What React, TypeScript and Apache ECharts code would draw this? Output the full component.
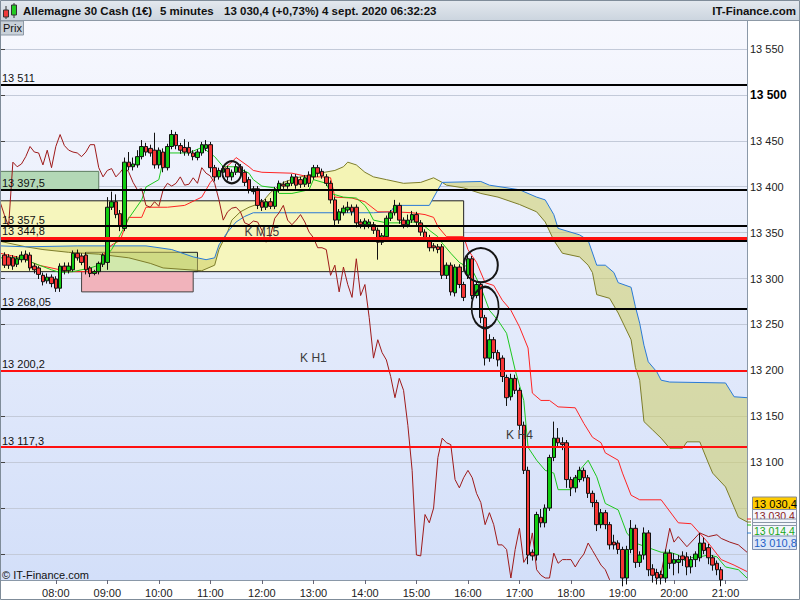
import React, { useEffect, useRef } from 'react';
import * as echarts from 'echarts';

const FONT = '"Liberation Sans", Arial, sans-serif';

// 5-minute slots, 06:55 .. 21:25
const categories: string[] = [];
for (let m = 6 * 60 + 55; m <= 21 * 60 + 25; m += 5) {
  categories.push(String(Math.floor(m / 60)).padStart(2, '0') + ':' + String(m % 60).padStart(2, '0'));
}
const firstCandleSlot = 1; // 07:00

const opens = [
  13326, 13324, 13323, 13316, 13321, 13327, 13326, 13314, 13312, 13304,
  13298, 13302, 13300, 13290, 13314, 13309, 13310, 13328, 13325, 13326,
  13312, 13306, 13308, 13316, 13318, 13378, 13384, 13371, 13355, 13427,
  13422, 13424, 13433, 13444, 13442, 13440, 13424, 13438, 13421, 13444,
  13457, 13445, 13443, 13443, 13437, 13432, 13437, 13442, 13446, 13421,
  13411, 13416, 13420, 13411, 13416, 13422, 13416, 13408, 13395, 13398,
  13384, 13378, 13384, 13379, 13397, 13403, 13401, 13404, 13411, 13408,
  13403, 13413, 13411, 13421, 13417, 13411, 13404, 13386, 13364, 13372,
  13375, 13378, 13378, 13362, 13359, 13359, 13359, 13353, 13340, 13346,
  13366, 13372, 13380, 13364, 13359, 13364, 13370, 13361, 13351, 13345,
  13336, 13335, 13335, 13304, 13315, 13285, 13313, 13294, 13304, 13322,
  13282, 13294, 13258, 13214, 13234, 13220, 13214, 13193, 13172, 13192,
  13179, 13141, 13092, 13003, 13000, 13041, 13035, 13051, 13106, 13127,
  13122, 13122, 13082, 13073, 13082, 13092, 13084, 13067, 13057, 13033,
  13046, 13033, 13014, 13013, 13006, 12975, 13006, 13029, 12992, 13000,
  13024, 12985, 12981, 12979, 12975, 13002, 12991, 12992, 12999, 12998,
  12987, 12995, 12997, 13013, 13008, 12997, 12991, 12984,
];
const closes = [
  13315, 13315, 13314, 13322, 13326, 13321, 13312, 13310, 13305, 13297,
  13302, 13295, 13290, 13314, 13309, 13314, 13328, 13323, 13318, 13310,
  13306, 13308, 13317, 13326, 13378, 13384, 13370, 13357, 13427, 13422,
  13425, 13433, 13444, 13438, 13437, 13424, 13440, 13421, 13444, 13457,
  13445, 13440, 13438, 13437, 13433, 13438, 13446, 13446, 13421, 13411,
  13418, 13420, 13411, 13416, 13422, 13416, 13405, 13397, 13398, 13380,
  13378, 13384, 13379, 13397, 13404, 13401, 13404, 13411, 13402, 13403,
  13410, 13404, 13421, 13415, 13412, 13404, 13386, 13364, 13373, 13377,
  13378, 13373, 13361, 13359, 13363, 13362, 13353, 13340, 13347, 13366,
  13372, 13380, 13364, 13359, 13364, 13370, 13362, 13351, 13345, 13334,
  13334, 13332, 13304, 13315, 13286, 13313, 13294, 13280, 13322, 13282,
  13294, 13258, 13214, 13234, 13220, 13212, 13194, 13171, 13192, 13179,
  13141, 13092, 13000, 12999, 13044, 13035, 13051, 13106, 13127, 13122,
  13120, 13082, 13073, 13084, 13092, 13084, 13067, 13057, 13033, 13046,
  13033, 13011, 13011, 13006, 12975, 13006, 13029, 12992, 13000, 13024,
  12984, 12978, 12975, 12975, 13002, 12991, 12995, 12995, 12995, 12987,
  12995, 13001, 13013, 13005, 12997, 12989, 12984, 12973,
];
const highs = [
  13329, 13327, 13326, 13325, 13330, 13331, 13329, 13317, 13314, 13307,
  13306, 13305, 13303, 13317, 13318, 13318, 13331, 13332, 13328, 13329,
  13314, 13310, 13319, 13328, 13389, 13395, 13392, 13375, 13432, 13438,
  13432, 13440, 13451, 13448, 13446, 13459, 13443, 13442, 13447, 13462,
  13460, 13448, 13452, 13449, 13440, 13441, 13449, 13451, 13449, 13424,
  13421, 13423, 13423, 13419, 13425, 13425, 13419, 13411, 13401, 13401,
  13387, 13387, 13388, 13400, 13407, 13406, 13407, 13414, 13414, 13411,
  13413, 13417, 13424, 13424, 13420, 13414, 13407, 13389, 13376, 13380,
  13384, 13381, 13381, 13365, 13366, 13365, 13362, 13356, 13350, 13369,
  13375, 13386, 13383, 13367, 13370, 13374, 13373, 13364, 13354, 13348,
  13339, 13338, 13338, 13318, 13318, 13316, 13316, 13297, 13325, 13325,
  13297, 13297, 13261, 13240, 13237, 13223, 13217, 13196, 13197, 13196,
  13182, 13145, 13096, 13006, 13047, 13050, 13055, 13109, 13145, 13138,
  13128, 13125, 13085, 13087, 13096, 13095, 13087, 13070, 13060, 13050,
  13049, 13036, 13022, 13016, 13009, 13010, 13038, 13033, 13004, 13030,
  13027, 12990, 12985, 12983, 13006, 13006, 13002, 13000, 13004, 13003,
  12999, 13004, 13024, 13019, 13012, 13000, 12994, 12987,
];
const lows = [
  13312, 13311, 13310, 13313, 13318, 13318, 13309, 13306, 13300, 13293,
  13295, 13291, 13286, 13286, 13305, 13306, 13308, 13320, 13315, 13305,
  13302, 13304, 13305, 13313, 13310, 13375, 13366, 13352, 13352, 13418,
  13418, 13421, 13430, 13434, 13433, 13420, 13420, 13416, 13418, 13441,
  13441, 13436, 13434, 13434, 13429, 13429, 13434, 13439, 13416, 13406,
  13408, 13413, 13407, 13407, 13413, 13412, 13401, 13393, 13392, 13376,
  13374, 13375, 13376, 13376, 13394, 13398, 13398, 13401, 13398, 13399,
  13400, 13400, 13408, 13411, 13409, 13401, 13382, 13357, 13360, 13369,
  13372, 13369, 13356, 13355, 13354, 13355, 13349, 13321, 13337, 13343,
  13363, 13369, 13360, 13355, 13356, 13361, 13358, 13347, 13341, 13330,
  13330, 13328, 13300, 13300, 13282, 13281, 13290, 13276, 13300, 13278,
  13279, 13252, 13206, 13210, 13213, 13205, 13188, 13162, 13168, 13175,
  13136, 13088, 12990, 12994, 12994, 13030, 13030, 13048, 13102, 13118,
  13114, 13073, 13064, 13068, 13079, 13080, 13062, 13052, 13026, 13029,
  13028, 13006, 13006, 13001, 12966, 12968, 13002, 12986, 12987, 12995,
  12977, 12970, 12968, 12968, 12970, 12985, 12978, 12980, 12988, 12978,
  12980, 12987, 12993, 13001, 12990, 12983, 12978, 12966,
];

// Ichimoku lines: [slot index, price]
const tenkan = [[0,13323],[5,13323],[8,13317],[12,13310],[14,13307],[17,13308],[21,13312],[23,13315],[26,13332],[28,13348],[30,13366],[33,13386],[34,13400],[37,13408],[38,13429],[39,13437],[44,13437],[47,13443],[48,13440],[50,13433],[52,13422],[55,13422],[58,13415],[59,13408],[61,13401],[64,13399],[65,13393],[68,13393],[72,13397],[73,13408],[76,13404],[77,13393],[80,13389],[83,13388],[85,13380],[86,13373],[87,13364],[90,13361],[93,13361],[96,13362],[98,13361],[100,13353],[102,13346],[103,13339],[105,13328],[107,13318],[110,13310],[112,13291],[114,13266],[116,13255],[118,13241],[120,13201],[122,13168],[123,13117],[125,13103],[127,13092],[129,13089],[130,13071],[133,13071],[135,13092],[137,13103],[139,13085],[141,13056],[144,13049],[146,13024],[148,13013],[151,13008],[154,13003],[156,13003],[158,13000],[160,12992],[161,12997],[163,12998],[165,13000],[167,12998],[169,12987],[172,12984],[174,12975]];
const kijun = [[0,13328],[5,13323],[9,13315],[16,13308],[23,13308],[24,13326],[26,13337],[28,13342],[29,13355],[30,13367],[33,13367],[34,13378],[39,13378],[43,13380],[47,13389],[49,13405],[51,13415],[54,13427],[55,13432],[58,13422],[59,13418],[61,13416],[68,13415],[72,13411],[75,13411],[77,13410],[78,13389],[82,13388],[85,13384],[88,13373],[92,13373],[96,13372],[99,13370],[101,13367],[102,13357],[104,13346],[108,13346],[109,13332],[111,13318],[113,13296],[115,13293],[117,13277],[119,13266],[121,13248],[123,13225],[124,13176],[126,13168],[128,13168],[130,13161],[134,13160],[136,13143],[138,13128],[140,13122],[141,13111],[144,13103],[145,13089],[147,13065],[149,13060],[154,13060],[158,13035],[161,13034],[165,13013],[168,12995],[171,12989],[174,12982]];
const senkouA = [[0,13341],[6,13335],[10,13332],[16,13329],[23,13327],[30,13323],[35,13317],[38,13312],[47,13309],[50,13315],[51,13332],[53,13351],[54,13364],[56,13373],[58,13378],[61,13383],[63,13394],[66,13405],[69,13410],[72,13413],[78,13418],[80,13422],[81,13427],[83,13424],[85,13416],[87,13411],[90,13408],[94,13404],[98,13405],[101,13410],[103,13405],[104,13402],[108,13399],[112,13393],[116,13389],[121,13381],[125,13373],[127,13362],[129,13342],[131,13328],[135,13324],[137,13315],[138,13307],[139,13283],[142,13279],[144,13263],[147,13234],[148,13204],[149,13190],[150,13145],[152,13136],[154,13127],[156,13116],[159,13116],[160,13123],[163,13123],[165,13100],[166,13089],[169,13074],[171,13052],[172,13041],[174,13036]];
const senkouB = [[0,13336],[6,13335],[18,13336],[34,13336],[40,13332],[45,13324],[48,13321],[50,13323],[51,13337],[53,13351],[55,13362],[57,13368],[59,13372],[69,13372],[87,13372],[91,13373],[92,13380],[100,13380],[102,13397],[103,13405],[112,13406],[114,13402],[121,13397],[125,13389],[127,13386],[129,13370],[130,13355],[135,13348],[137,13342],[139,13315],[141,13315],[143,13307],[144,13296],[147,13291],[148,13270],[149,13252],[150,13228],[151,13210],[153,13199],[154,13190],[156,13188],[169,13187],[171,13172],[174,13171]];
// cloud segments between crossings: [from, to, 1 = B above A]
const cloudRegions = [[0, 6, 0], [6, 53, 1], [53, 103, 0], [103, 174, 1]];
const chikouRight = [[152,12968],[154,12980],[156,13029],[157,13014],[158,13020],[160,13009],[161,13014],[163,13024],[165,13020],[167,13022],[168,13018],[170,13014],[172,13011],[174,13003]];

// horizontal levels
const levelValues = [13511, 13397.5, 13357.5, 13344.8, 13341.5, 13268.05, 13200.2, 13117.3];
const levelLabels = ['13 511', '13 397,5', '13 357,5', '13 344,8', '', '13 268,05', '13 200,2', '13 117,3'];
const levelColors = ['#000', '#000', '#000', '#ff1010', '#000', '#000', '#ff1010', '#ff1010'];
const levelWidths = [2, 2, 2, 3, 2, 2, 2, 2];

// zones [x1, p1, x2, p2]
const zones = [
  { c: [0, 13385, 108, 13308], fill: '#f6f6bd', border: '#222' },
  { c: [0, 13417, 23, 13397], fill: '#b3d8b6', border: '#5d7d60' },
  { c: [20, 13329, 46, 13308], fill: 'rgba(140,205,140,0.35)', border: '#222' },
  { c: [19, 13308, 45, 13286], fill: '#f1b3bb', border: '#444' },
];
const circles = [
  { at: [112, 13315], size: [34, 34] },
  { at: [113, 13269], size: [27, 41] },
  { at: [54, 13416], size: [19, 22] },
];
const notes = [
  { at: [61, 13351], text: 'K M15' },
  { at: [73, 13214], text: 'K H1' },
  { at: [121, 13130], text: 'K H4' },
];

const fmtPrice = (v: number) => Math.floor(v / 1000) + ' ' + String(Math.round(v % 1000)).padStart(3, '0');

export default function App() {
  const ref = useRef<HTMLDivElement>(null);
  useEffect(() => {
    document.body.style.margin = '0';
    const chart = echarts.init(ref.current!, undefined, { renderer: 'svg', width: 800, height: 600 });
    const candleData: any[] = [['-', '-', '-', '-']];
    for (let k = 0; k < opens.length; k++) candleData.push([opens[k], closes[k], lows[k], highs[k]]);
    const chikou = closes.map((c, k) => [k + firstCandleSlot - 26, c]).filter((p) => p[0] >= 0);

    const pale = '#f4f4b5';
    const khaki = 'rgba(205,205,100,0.55)';

    const txt = (text: string, x: number, y: number, o: any = {}) => ({
      type: 'text', z: o.z ?? 60, silent: true,
      style: {
        text, x, y, fill: o.fill || '#111',
        font: `${o.bold ? 'bold ' : ''}${o.size || 11}px ${FONT}`,
        align: o.align || 'left', verticalAlign: 'middle',
      },
    });
    const rect = (x: number, y: number, w: number, h: number, fill: any, stroke: string | null, z = 60, lw = 1) => ({
      type: 'rect', z, silent: true, shape: { x, y, width: w, height: h },
      style: { fill, stroke: stroke || 'none', lineWidth: lw },
    });
    const seg = (x1: number, y1: number, x2: number, y2: number, color: string, z = 60, lw = 1) => ({
      type: 'line', z, silent: true, shape: { x1, y1, x2, y2 }, style: { stroke: color, lineWidth: lw },
    });

    const lineSeries = (data: number[][], color: string, z = 3) => ({
      type: 'line', data, xAxisIndex: 0, yAxisIndex: 0, symbol: 'none', showSymbol: false,
      lineStyle: { color, width: 1 }, z, silent: true, animation: false,
    });

    const option: any = {
      animation: false,
      textStyle: { fontFamily: FONT },
      grid: [
        { left: 0, right: 53, top: 20, bottom: 20 },
        { left: 0, right: 53, top: 3, height: 598 },
      ],
      xAxis: [
        {
          type: 'category', gridIndex: 0, data: categories, boundaryGap: false,
          axisLine: { show: true, lineStyle: { color: '#8a98a8', width: 1 } },
          axisTick: { show: true, length: 4, lineStyle: { color: '#667' }, interval: (i: number, v: string) => v.endsWith(':00') && v !== '07:00' },
          axisLabel: { show: true, color: '#222', fontSize: 11, margin: 7, interval: (i: number, v: string) => v.endsWith(':00') && v !== '07:00' },
          splitLine: { show: false },
        },
        { type: 'value', gridIndex: 1, min: 0, max: 1, show: false },
      ],
      yAxis: [
        {
          type: 'value', gridIndex: 0, position: 'right', min: 12972.83, max: 13581.52,
          axisLine: { show: true, lineStyle: { color: '#8a98a8' } },
          axisTick: { show: false }, axisLabel: { show: false }, splitLine: { show: false },
        },
        {
          type: 'value', gridIndex: 1, position: 'right', min: 12950, max: 13600, interval: 50,
          axisLine: { show: false },
          axisTick: { show: true, length: 5, lineStyle: { color: '#444' } },
          axisLabel: {
            show: true, margin: 3, color: '#222', fontSize: 11,
            formatter: (v: number) => (v < 13100 || v > 13550 ? '' : v === 13500 ? '{b|13 500}' : fmtPrice(v)),
            rich: { b: { fontWeight: 'bold', fontSize: 12, color: '#000' } },
          },
          splitLine: { show: true, lineStyle: { color: '#c3cad9', width: 1 } },
        },
      ],
      series: [
        {
          type: 'custom', coordinateSystem: 'cartesian2d', xAxisIndex: 0, yAxisIndex: 0, z: 2, silent: true, clip: true,
          data: cloudRegions.map((r) => [r[0], 13300]),
          renderItem: (params: any, api: any) => {
            const r = cloudRegions[params.dataIndex];
            const top = senkouA.filter((p) => p[0] >= r[0] && p[0] <= r[1]).map((p) => api.coord(p));
            const bot = senkouB.filter((p) => p[0] >= r[0] && p[0] <= r[1]).reverse().map((p) => api.coord(p));
            return { type: 'polygon', shape: { points: top.concat(bot) }, style: { fill: r[2] ? khaki : pale, stroke: 'none' } };
          },
        },
        lineSeries(senkouA, '#7d7d2a'),
        lineSeries(senkouB, '#2b7ad6'),
        lineSeries(kijun, '#ff2424'),
        lineSeries(tenkan, '#1ec81e'),
        lineSeries(chikou, '#9e1a1a'),
        lineSeries(chikouRight, '#9e1a1a'),
        {
          type: 'candlestick', xAxisIndex: 0, yAxisIndex: 0, data: candleData, barWidth: 4, z: 4, silent: true,
          itemStyle: { color: '#11cc11', color0: '#f53535', borderColor: '#111', borderColor0: '#111', borderWidth: 1 },
          markArea: {
            silent: true, z: 1,
            data: zones.map((zn) => [
              { coord: [zn.c[0], zn.c[1]], itemStyle: { color: zn.fill, borderColor: zn.border, borderWidth: 1 } },
              { coord: [zn.c[2], zn.c[3]] },
            ]),
          },
          markLine: {
            silent: true, symbol: ['none', 'none'], animation: false,
            data: levelValues.map((v, k) => ({
              yAxis: v,
              lineStyle: { color: levelColors[k], width: levelWidths[k], type: 'solid' },
              label: { show: levelLabels[k] !== '', formatter: levelLabels[k], position: 'insideStartTop', distance: [2, 1], color: '#111', fontSize: 11 },
            })),
          },
          markPoint: {
            silent: true, animation: false,
            data: [
              ...circles.map((c) => ({
                coord: c.at, symbol: 'circle', symbolSize: c.size,
                itemStyle: { color: 'rgba(0,0,0,0)', borderColor: '#151515', borderWidth: 2 },
                label: { show: false },
              })),
              ...notes.map((n) => ({
                coord: n.at, symbol: 'circle', symbolSize: 1,
                itemStyle: { color: 'rgba(0,0,0,0)' },
                label: { show: true, position: 'inside', formatter: n.text, color: '#3a3a3a', fontSize: 12 },
              })),
            ],
          },
        },
      ],
      graphic: [
        rect(0, 20, 747, 560, new echarts.graphic.LinearGradient(0, 0, 0, 1, [
          { offset: 0, color: '#f7f8fe' }, { offset: 1, color: '#d3dff9' },
        ]), null, -10),
        // header
        rect(0, 0, 800, 20, new echarts.graphic.LinearGradient(0, 0, 0, 1, [
          { offset: 0, color: '#e4e9ef' }, { offset: 1, color: '#ccd5df' },
        ]), null, 50),
        seg(0, 20.5, 800, 20.5, '#8d99a6', 51),
        seg(6, 6, 6, 19, '#333', 52),
        rect(3.5, 10, 5, 7, '#ee3b3b', '#333', 53),
        seg(14, 3, 14, 18, '#333', 52),
        rect(11.5, 5, 5, 10, '#22cc22', '#333', 53),
        txt('Allemagne 30 Cash (1€)', 23, 11, { bold: true, size: 11.5 }),
        txt('5 minutes', 160, 11, { bold: true, size: 11.5 }),
        txt('13 030,4 (+0,73%)', 224, 11, { bold: true, size: 11.5 }),
        txt('4 sept. 2020 06:32:23', 322, 11, { bold: true, size: 11.5 }),
        txt('IT-Finance.com', 796, 11, { bold: true, size: 11.5, align: 'right' }),
        rect(0.5, 21, 23, 14, '#c9d1d9', '#8d99a6', 50),
        txt('Prix', 3, 28, { size: 11 }),
        txt('© IT-Finance.com', 2, 575, { size: 11 }),
        // price tags
        seg(747, 519, 751, 519, '#ff2424', 55),
        seg(747, 522, 751, 522, '#7d7d2a', 55),
        seg(747, 525, 751, 525, '#1ec81e', 55),
        seg(747, 533, 751, 533, '#2b7ad6', 55),
        rect(752.5, 497, 44, 12.5, '#ffcc00', '#8a8a8a', 61),
        txt('13 030,4', 754, 503.5, { z: 62, fill: '#000' }),
        rect(752.5, 509.5, 44, 13, '#f4f6fc', '#8a96a8', 63),
        txt('13 030,4', 754, 516, { z: 64, fill: '#8b1a1a', size: 10.5 }),
        rect(752.5, 519, 44, 12, '#f4f6fc', '#8a96a8', 65),
        rect(752.5, 522.5, 44, 12, '#f4f6fc', '#8a96a8', 66),
        rect(752.5, 525.5, 44, 11, '#f4f6fc', '#8a96a8', 67),
        txt('13 014,4', 754, 530.5, { z: 68, fill: '#18a818', size: 10.5 }),
        rect(752.5, 536, 44, 13.5, '#dde7f7', '#7d8fb0', 69),
        txt('13 010,8', 754, 543, { z: 70, fill: '#1f5fc8' }),
        // frame
        rect(0.5, 0.5, 799, 599, 'none', '#7f8c99', 80),
      ],
    };
    chart.setOption(option);
    return () => chart.dispose();
  }, []);
  return <div ref={ref} style={{ position: 'absolute', left: 0, top: 0, width: 800, height: 600, background: '#fff' }} />;
}
